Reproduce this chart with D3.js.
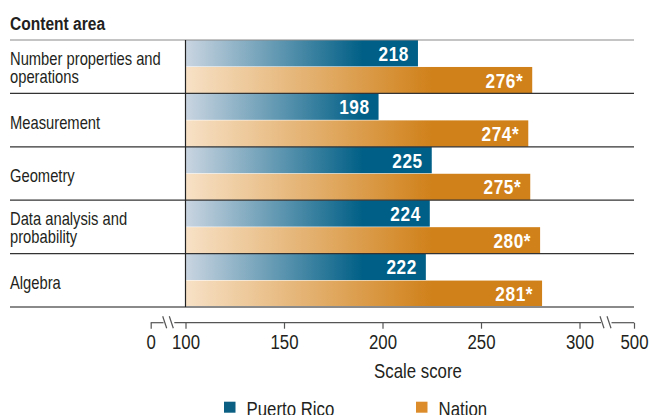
<!DOCTYPE html>
<head>
    <meta charset="utf-8">
    <script src="https://cdn.jsdelivr.net/npm/d3@7"></script>
    <style>
        body {
            margin: 0;
            background: #fff;
        }

        svg text {
            font-family: "Liberation Sans", Arial, sans-serif;
            fill: #231f20;
        }

        .title {
            font-size: 19px;
            font-weight: bold;
        }

        .cat {
            font-size: 18px;
        }

        .value {
            font-size: 21px;
            font-weight: bold;
            fill: #fff !important;
            letter-spacing: 0.7px;
        }

        .axis text {
            font-size: 20.5px;
        }

        .axis line, .axis .seg {
            stroke: #555;
            stroke-width: 1.2;
        }

        .legend text {
            font-size: 20.5px;
        }
    </style>
</head>
<body>
<div id="chart"></div>
<script type="text/javascript">
    var categories = ["Number properties and\noperations", "Measurement", "Geometry",
        "Data analysis and\nprobability", "Algebra"];
    var series = ["Puerto Rico", "Nation"];
    var puertoRico = [218, 198, 225, 224, 222];
    var nation = [276, 274, 275, 280, 281];
    var nationMark = ["*", "*", "*", "*", "*"];
    var tickValues = [0, 100, 150, 200, 250, 300, 500];

    var width = 649, height = 415;
    var narrow = " scale(0.82,1)"; // condensed look
    var svg = d3.select("#chart").append("svg")
        .attr("width", width)
        .attr("height", height);

    function at(px, py) {
        return "translate(" + px + "," + py + ")" + narrow;
    }

    // broken axis: 0 | 100..300 | 500
    var x = d3.scaleLinear()
        .domain([0, 100, 300, 500])
        .range([150.7, 185.5, 579.5, 634]);

    var y = d3.scaleBand().domain(d3.range(categories.length)).range([40, 307]);
    var ys = d3.scaleBand().domain(series).range([0, y.bandwidth()]).paddingInner(0.02);

    var defs = svg.append("defs");
    function grad(id, c0, c1, x1) {
        var g = defs.append("linearGradient").attr("id", id)
            .attr("gradientUnits", "userSpaceOnUse")
            .attr("x1", x(100)).attr("x2", x1).attr("y1", 0).attr("y2", 0);
        g.append("stop").attr("offset", "0%").attr("stop-color", c0);
        g.append("stop").attr("offset", "100%").attr("stop-color", c1);
    }
    grad("gPR", "#cad5e1", "#005f86", x(190));
    grad("gNat", "#f7e1c6", "#d0811a", x(225));

    svg.append("text").attr("class", "title").attr("transform", at(10, 30)).text("Content area");

    var rows = svg.selectAll(".row").data(categories).enter()
        .append("g")
        .attr("class", "row")
        .attr("transform", function (d, i) {
            return "translate(0," + y(i) + ")";
        });

    rows.append("rect")
        .attr("x", x(100))
        .attr("y", ys("Puerto Rico"))
        .attr("height", ys.bandwidth())
        .attr("width", function (d, i) {
            return x(puertoRico[i]) - x(100);
        })
        .attr("fill", "url(#gPR)");

    rows.append("rect")
        .attr("x", x(100))
        .attr("y", ys("Nation"))
        .attr("height", ys.bandwidth())
        .attr("width", function (d, i) {
            return x(nation[i]) - x(100);
        })
        .attr("fill", "url(#gNat)");

    rows.append("text").attr("class", "value")
        .attr("transform", function (d, i) {
            return at(x(puertoRico[i]) - 9, ys("Puerto Rico") + ys.bandwidth() / 2 + 7.5);
        })
        .attr("text-anchor", "end")
        .text(function (d, i) {
            return puertoRico[i];
        });

    rows.append("text").attr("class", "value")
        .attr("transform", function (d, i) {
            return at(x(nation[i]) - 9, ys("Nation") + ys.bandwidth() / 2 + 7.5);
        })
        .attr("text-anchor", "end")
        .text(function (d, i) {
            return nation[i] + nationMark[i];
        });

    rows.each(function (d) {
        var lines = d.split("\n");
        var c = y.bandwidth() / 2;
        var t = d3.select(this).append("text").attr("class", "cat")
            .attr("transform", at(10, 0));
        lines.forEach(function (l, k) {
            t.append("tspan").attr("x", 0)
                .attr("y", lines.length === 1 ? c + 9 : c - 1.7 + k * 18.3)
                .text(l);
        });
    });

    // row separators
    svg.selectAll(".sep").data(d3.range(categories.length + 1)).enter()
        .append("line")
        .attr("x1", 10).attr("x2", x(500))
        .attr("y1", function (i) {
            return i < categories.length ? y(i) : y.range()[1];
        })
        .attr("y2", function (i) {
            return i < categories.length ? y(i) : y.range()[1];
        })
        .attr("stroke", function (i) {
            return (i === 0 || i === categories.length) ? "#8a8a8a" : "#333";
        })
        .attr("stroke-width", function (i) {
            return i === categories.length ? 1.8 : 1.2;
        });

    svg.append("line")
        .attr("x1", x(100)).attr("x2", x(100))
        .attr("y1", y.range()[0]).attr("y2", y.range()[1])
        .attr("stroke", "#222").attr("stroke-width", 1.2);

    // axis
    var axisY = 322.7;
    var xAxis = d3.axisBottom(x).tickValues(tickValues).tickSize(6).tickPadding(5.5)
        .tickFormat(d3.format("d"));
    var ax = svg.append("g").attr("class", "axis")
        .attr("transform", "translate(0," + axisY + ")")
        .call(xAxis);
    ax.select(".domain").remove();
    ax.selectAll(".tick text").attr("transform", narrow.trim());

    var segs = [[x(0), 163.5], [174.3, 601], [611.5, x(500)]];
    ax.selectAll(".seg").data(segs).enter()
        .append("line").attr("class", "seg")
        .attr("x1", function (d) { return d[0]; })
        .attr("x2", function (d) { return d[1]; })
        .attr("y1", 0).attr("y2", 0);
    var slashes = [162.7, 169.3, 600, 607];
    ax.selectAll(".slash").data(slashes).enter()
        .append("line").attr("class", "seg")
        .attr("x1", function (d) { return d; })
        .attr("x2", function (d) { return d + 4; })
        .attr("y1", -6.5).attr("y2", 5.5);

    svg.append("g").attr("class", "axis").append("text")
        .attr("transform", at(418, 378.3))
        .attr("text-anchor", "middle")
        .text("Scale score");

    // legend
    var legColors = ["#0b5f82", "#dd8c2c"];
    var legX = [224, 416];
    var leg = svg.selectAll(".legend").data(series).enter()
        .append("g").attr("class", "legend")
        .attr("transform", function (d, i) {
            return "translate(" + legX[i] + ",401.7)";
        });
    leg.append("rect").attr("width", 11.5).attr("height", 11)
        .attr("fill", function (d, i) { return legColors[i]; });
    leg.append("text").attr("transform", at(22.5, 14)).text(function (d) { return d; });
</script>
</body>
</html>
